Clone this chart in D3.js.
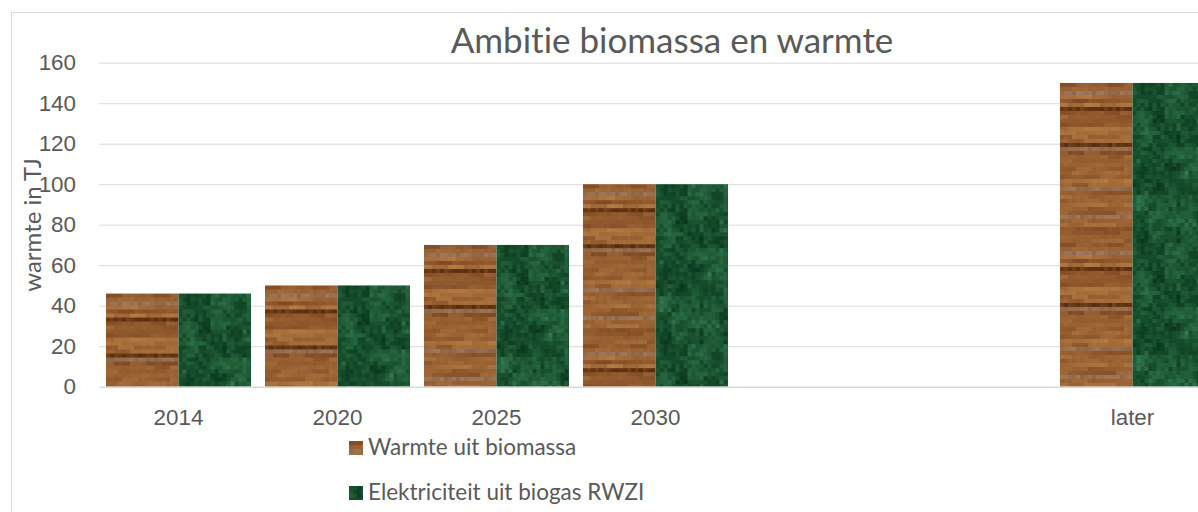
<!DOCTYPE html>
<html>
<head>
<meta charset="utf-8">
<script src="https://cdn.jsdelivr.net/npm/d3@7"></script>
<style>
  body { margin: 0; background: #fff; }
  svg { display: block; font-family: Lato, "Open Sans", sans-serif; font-variant-ligatures: none; }
</style>
</head>
<body>
<script>
const categories = ['2014', '2020', '2025', '2030', '', '', 'later'];
const warmteBiomassa = [46, 50, 70, 100, null, null, 150];
const elektriciteitBiogas = [46, 50, 70, 100, null, null, 150];
const yTicks = [0, 20, 40, 60, 80, 100, 120, 140, 160];
const seriesNames = ['Warmte uit biomassa', 'Elektriciteit uit biogas RWZI'];

const w = 1198, h = 512;
const plotLeft = 99, plotRight = 1212, plotTop = 62.7, plotBottom = 386.7;
const textColor = '#595959', gridColor = '#d9d9d9';

const svg = d3.select('body').append('svg')
  .attr('width', w)
  .attr('height', h);

// texture helpers (deterministic noise, only for the picture fill)
function noise(i, j, s) {
  const v = Math.sin(i * 12.9898 + j * 78.233 + s * 37.719) * 43758.5453;
  return v - Math.floor(v);
}

const defs = svg.append('defs');
const cell = 4, tileW = 72, tileH = 160;

// wood grain: horizontal streaks
const wood = defs.append('pattern')
  .attr('id', 'wood')
  .attr('patternUnits', 'userSpaceOnUse')
  .attr('width', tileW).attr('height', tileH);
const woodTone = d3.interpolateRgb('#7c4621', '#b57c44');
for (let r = 0; r < tileH / cell; r++) {
  const base = noise(r, 0, 1);
  for (let c = 0; c < tileW / cell; c++) {
    let col;
    const streak = noise(r, Math.floor((c + r % 3) / 4), 2);
    if (base < 0.05) col = d3.interpolateRgb('#5a2c0d', '#74421c')(noise(r, c, 5));
    else if (base > 0.95) col = d3.interpolateRgb('#8c6447', '#a07a5a')(noise(r, c, 6));
    else col = woodTone(Math.min(1, Math.max(0, base * 0.55 + streak * 0.45 + (noise(r, c, 7) - 0.5) * 0.12)));
    wood.append('rect')
      .attr('x', c * cell).attr('y', r * cell)
      .attr('width', cell + 0.3).attr('height', cell + 0.3)
      .attr('fill', col);
  }
}

// green marble: blotchy cells with lighter patches
const marble = defs.append('pattern')
  .attr('id', 'marble')
  .attr('patternUnits', 'userSpaceOnUse')
  .attr('width', tileW).attr('height', tileH);
const greenTone = d3.interpolateRgb('#07351a', '#347c4f');
for (let r = 0; r < tileH / cell; r++) {
  for (let c = 0; c < tileW / cell; c++) {
    const n = noise(r, c, 3);
    const n2 = noise(Math.floor(r / 4), Math.floor(c / 4), 4);
    const n3 = noise(Math.floor((r + 2) / 3), Math.floor((c + 1) / 3), 8);
    const t = n * 0.4 + n2 * 0.35 + n3 * 0.25;
    const col = greenTone(Math.min(1, Math.pow(t, 1.3)));
    marble.append('rect')
      .attr('x', c * cell).attr('y', r * cell)
      .attr('width', cell + 0.3).attr('height', cell + 0.3)
      .attr('fill', col);
  }
}

// outer chart border
svg.append('rect')
  .attr('x', 11.5).attr('y', 12.5)
  .attr('width', 1220).attr('height', 530)
  .attr('fill', 'none')
  .attr('stroke', gridColor);

const xScale = d3.scaleBand()
  .domain(d3.range(categories.length))
  .range([plotLeft, plotRight])
  .paddingInner(0.088)
  .paddingOuter(0.044);

const xSub = d3.scaleBand()
  .domain([0, 1])
  .range([0, xScale.bandwidth()]);

const yScale = d3.scaleLinear()
  .domain([0, 160])
  .range([plotBottom, plotTop]);

// gridlines
svg.append('g')
  .attr('transform', 'translate(' + plotLeft + ',0)')
  .call(d3.axisLeft(yScale).tickValues(yTicks.slice(1)).tickSize(-(plotRight - plotLeft)).tickFormat(''))
  .call(g => g.select('.domain').remove())
  .selectAll('line')
  .attr('stroke', gridColor);

// y labels
const yAxis = svg.append('g')
  .attr('transform', 'translate(' + plotLeft + ',0)')
  .call(d3.axisLeft(yScale).tickValues(yTicks).tickSize(0).tickPadding(23));
yAxis.select('.domain').remove();
yAxis.selectAll('text')
  .style('font-size', '22.4px')
  .attr('fill', textColor);

// bars
const series = [
  { name: seriesNames[0], values: warmteBiomassa, fill: 'url(#wood)' },
  { name: seriesNames[1], values: elektriciteitBiogas, fill: 'url(#marble)' }
];

series.forEach((s, si) => {
  svg.selectAll('.bar' + si)
    .data(s.values.map((v, i) => ({ i: i, v: v })).filter(d => d.v !== null))
    .enter()
    .append('g')
    .attr('class', 'bar' + si)
    .attr('transform', d => 'translate(' + (xScale(d.i) + xSub(si)) + ',' + yScale(d.v) + ')')
    .append('rect')
    .attr('width', xSub.bandwidth())
    .attr('height', d => plotBottom - yScale(d.v))
    .attr('fill', s.fill);
});

// x axis
const xAxis = svg.append('g')
  .attr('transform', 'translate(0,' + plotBottom + ')')
  .call(d3.axisBottom(xScale).tickSize(0).tickPadding(22).tickFormat(i => categories[i]));
xAxis.select('.domain')
  .attr('stroke', gridColor)
  .attr('stroke-width', 1.5);
xAxis.selectAll('text')
  .style('font-size', '22.4px')
  .attr('fill', textColor);

// title
svg.append('text')
  .attr('x', 672)
  .attr('y', 53)
  .attr('text-anchor', 'middle')
  .style('font-size', '35px')
  .attr('fill', textColor)
  .text('Ambitie biomassa en warmte');

// y axis title
svg.append('text')
  .attr('transform', 'translate(41,225) rotate(-90)')
  .attr('text-anchor', 'middle')
  .style('font-size', '24px')
  .attr('fill', textColor)
  .text('warmte in TJ');

// legend
const legend = svg.selectAll('.legend')
  .data(series)
  .enter()
  .append('g')
  .attr('class', 'legend')
  .attr('transform', (d, i) => 'translate(349,' + (441 + i * 45) + ')');

legend.append('rect')
  .attr('width', 14)
  .attr('height', 14)
  .attr('fill', d => d.fill);

legend.append('text')
  .attr('x', 19)
  .attr('y', 14)
  .style('font-size', '22.5px')
  .attr('fill', textColor)
  .text(d => d.name);
</script>
</body>
</html>
